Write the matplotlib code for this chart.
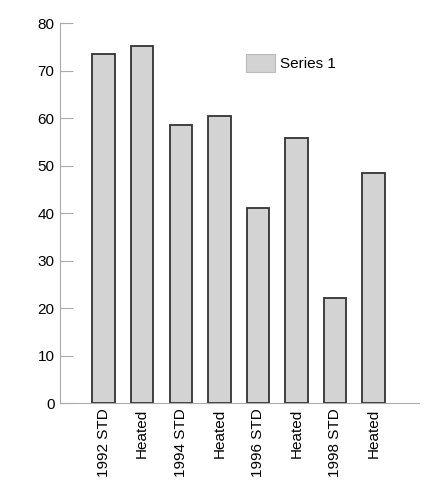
import matplotlib
matplotlib.use('Agg')
from matplotlib import pyplot as plt

# Valores
categories = ['1992 STD', 'Heated', '1994 STD', 'Heated',
              '1996 STD', 'Heated', '1998 STD', 'Heated']
values = [73.6, 75.2, 58.5, 60.5, 41.0, 55.9, 22.2, 48.4]
yticks = [0, 10, 20, 30, 40, 50, 60, 70, 80]
series_name = 'Series 1'

plt.rcParams['font.family'] = ['Liberation Sans', 'DejaVu Sans']

fig = plt.figure(figsize=(4.39, 4.8), dpi=100)
ax = fig.add_axes([0.1367, 0.1604, 0.8173, 0.791])

pos = list(range(len(values)))
ax.bar(pos, values, width=0.58, color='#d3d3d3', edgecolor='#333333',
       linewidth=1.3, label=series_name)

ax.set_xlim(-1.13, len(values) - 1 + 1.17)
ax.set_ylim(0, 80)
ax.set_yticks(yticks)
ax.set_xticks(pos)
ax.set_xticklabels(categories, rotation=90, fontsize=11)
ax.tick_params(axis='y', direction='in', length=9.5, width=0.8,
               color='#aaaaaa', labelsize=11, pad=4)
ax.tick_params(axis='x', length=0, pad=4)

for side in ['top', 'right']:
    ax.spines[side].set_visible(False)
for side in ['left', 'bottom']:
    ax.spines[side].set_color('#aaaaaa')
    ax.spines[side].set_linewidth(0.8)

leg = ax.legend(loc='upper left', bbox_to_anchor=(0.48, 0.955), frameon=False,
                fontsize=11, handlelength=1.9, handleheight=1.4, handletextpad=0.3)
for h in leg.legend_handles:
    h.set_edgecolor('#bbbbbb')
    h.set_linewidth(0.8)

plt.savefig('out.png', dpi=100)
